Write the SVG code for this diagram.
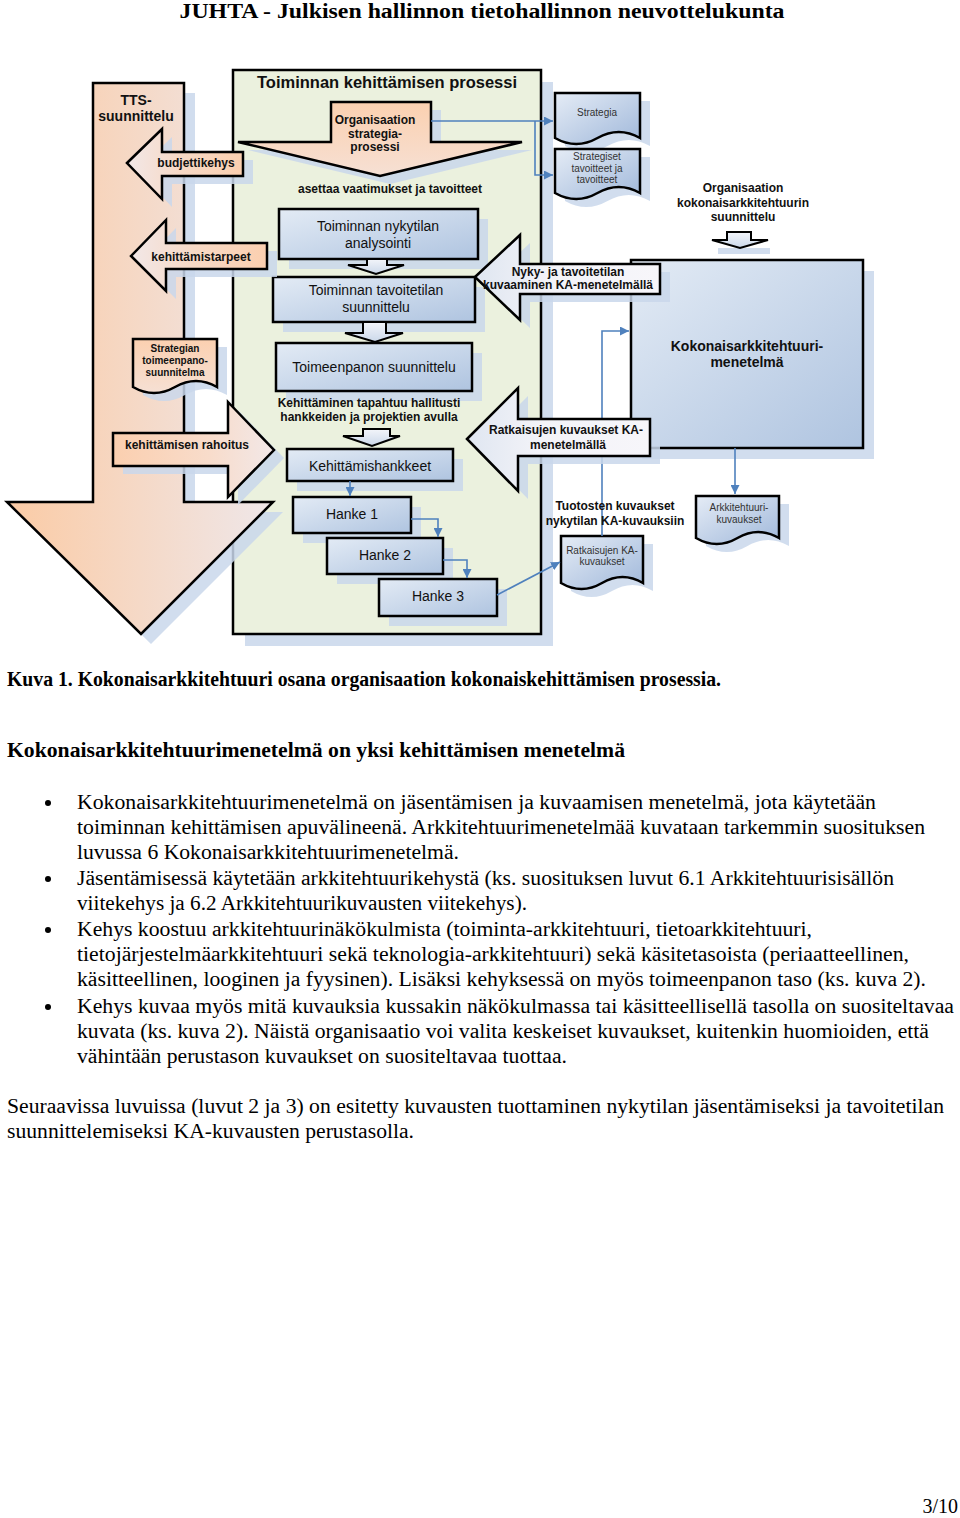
<svg xmlns="http://www.w3.org/2000/svg" width="960" height="1518" viewBox="0 0 960 1518">
<style>
.sans{font-family:"Liberation Sans",Arial,sans-serif;}
.b{font-weight:bold;}
.lbl{font-family:"Liberation Sans",Arial,sans-serif;font-weight:bold;font-size:12px;fill:#111;text-anchor:middle;}
.box{font-family:"Liberation Sans",Arial,sans-serif;font-size:14px;fill:#111;text-anchor:middle;}
.doc{font-family:"Liberation Sans",Arial,sans-serif;font-size:10px;fill:#333;text-anchor:middle;}
.ser{font-family:"Liberation Serif","Times New Roman",serif;font-size:20px;fill:#000;}
.sh{fill:#c9d7eb;opacity:0.85;}
.stk{stroke:#000;stroke-width:2.5;stroke-linejoin:miter;}
.con{fill:none;stroke:#4f81bd;stroke-width:1.6;}
</style>
<defs>
<linearGradient id="gBox" x1="0" y1="0" x2="1" y2="1">
<stop offset="0" stop-color="#e3ebf5"/><stop offset="1" stop-color="#afc4e0"/>
</linearGradient>
<linearGradient id="gDoc" x1="0" y1="0" x2="1" y2="1">
<stop offset="0" stop-color="#e5ecf6"/><stop offset="1" stop-color="#a0b8da"/>
</linearGradient>
<linearGradient id="gBig" x1="7" y1="0" x2="273" y2="0" gradientUnits="userSpaceOnUse">
<stop offset="0" stop-color="#fbcba5"/><stop offset="1" stop-color="#efe7e9"/>
</linearGradient>
<linearGradient id="gOrL" x1="0" y1="0" x2="1" y2="0">
<stop offset="0" stop-color="#f2e8e8"/><stop offset="0.45" stop-color="#f7d9c6"/><stop offset="1" stop-color="#fbcfaf"/>
</linearGradient>
<linearGradient id="gOrR" x1="0" y1="0" x2="1" y2="0">
<stop offset="0" stop-color="#fbcfaf"/><stop offset="0.6" stop-color="#f8dccb"/><stop offset="1" stop-color="#f2e8e8"/>
</linearGradient>
<linearGradient id="gOrD" x1="0" y1="0" x2="0" y2="1">
<stop offset="0" stop-color="#fbd0b0"/><stop offset="1" stop-color="#f6e0d4"/>
</linearGradient>
<linearGradient id="gWh" x1="0" y1="0" x2="1" y2="0">
<stop offset="0" stop-color="#dfe6f1"/><stop offset="0.4" stop-color="#f3f3f8"/><stop offset="1" stop-color="#f7f6fa"/>
</linearGradient>
<linearGradient id="gSmall" x1="0" y1="0" x2="0" y2="1">
<stop offset="0" stop-color="#f3f5fa"/><stop offset="1" stop-color="#cbd8ea"/>
</linearGradient>
<marker id="ar" viewBox="0 0 10 10" refX="10" refY="5" markerWidth="9" markerHeight="9" markerUnits="userSpaceOnUse" orient="auto">
<path d="M0,0 L10,5 L0,10 z" fill="#4f81bd"/>
</marker>
</defs>
<rect width="960" height="1518" fill="#fff"/>

<text x="482" y="18" class="ser b" font-size="21" text-anchor="middle" textLength="605" lengthAdjust="spacingAndGlyphs">JUHTA - Julkisen hallinnon tietohallinnon neuvottelukunta</text>

<!-- container -->
<g id="container">
<path class="sh" d="M541,82 H553 V646 H245 V634 H541 Z"/>
<rect x="233" y="70" width="308" height="564" fill="#ebf1de" class="stk"/>
<text x="387" y="88" class="sans b" font-size="16.5" text-anchor="middle" fill="#111">Toiminnan kehittämisen prosessi</text>
</g>

<!-- TTS column / big arrow -->
<g id="tts">
<polygon class="sh" points="184,93 195,93 195,512 283,512 151,644 17,512 184,512"/>
<polygon points="93,83 184,83 184,502 273,502 141,634 7,502 93,502" fill="url(#gBig)" class="stk"/>
<text x="136" y="105" class="sans b" font-size="14" text-anchor="middle" fill="#111">TTS-</text>
<text x="136" y="121" class="sans b" font-size="14" text-anchor="middle" fill="#111">suunnittelu</text>
</g>

<!-- strategy process arrow -->
<g id="strategiaprosessi">
<polygon class="sh" points="341,110 441,110 441,150 532,150 390,184 248,150 341,150"/>
<polygon points="331,102 431,102 431,142 522,142 380,176 238,142 331,142" fill="url(#gOrD)" class="stk"/>
<text x="375" y="124" class="lbl">Organisaation</text>
<text x="375" y="138" class="lbl">strategia-</text>
<text x="375" y="151" class="lbl">prosessi</text>
</g>
<text x="390" y="193" class="lbl">asettaa vaatimukset ja tavoitteet</text>

<!-- Strategia docs -->
<g id="strategia">
<path class="sh" d="M565,101 H650 V146 Q628.75,134 607.5,146 Q586.25,158 565,146 Z"/>
<path d="M555,93 H640 V138 Q618.75,126 597.5,138 Q576.25,150 555,138 Z" fill="url(#gDoc)" class="stk"/>
<text x="597" y="116" class="doc">Strategia</text>
</g>
<g id="strategiset">
<path class="sh" d="M565,157 H650 V201 Q628.75,189 607.5,201 Q586.25,213 565,201 Z"/>
<path d="M555,149 H640 V193 Q618.75,181 597.5,193 Q576.25,205 555,193 Z" fill="url(#gDoc)" class="stk"/>
<text x="597" y="160" class="doc">Strategiset</text>
<text x="597" y="172" class="doc">tavoitteet ja</text>
<text x="597" y="183" class="doc">tavoitteet</text>
</g>

<!-- boxes -->
<g id="nykytila">
<rect class="sh" x="289" y="219" width="199" height="50"/>
<rect x="279" y="209" width="199" height="50" fill="url(#gBox)" class="stk"/>
<text x="378" y="231" class="box">Toiminnan nykytilan</text>
<text x="378" y="248" class="box">analysointi</text>
</g>
<g id="tavoitetila">
<rect class="sh" x="283" y="287" width="202" height="45"/>
<rect x="273" y="277" width="202" height="45" fill="url(#gBox)" class="stk"/>
<text x="376" y="295" class="box">Toiminnan tavoitetilan</text>
<text x="376" y="312" class="box">suunnittelu</text>
</g>
<g id="toimeenpano">
<rect class="sh" x="286" y="353" width="196" height="48"/>
<rect x="276" y="343" width="196" height="48" fill="url(#gBox)" class="stk"/>
<text x="374" y="372" class="box">Toimeenpanon suunnittelu</text>
</g>
<text x="369" y="407" class="lbl">Kehittäminen tapahtuu hallitusti</text>
<text x="369" y="421" class="lbl">hankkeiden ja projektien avulla</text>
<g id="kehittamishankkeet">
<rect class="sh" x="297" y="459" width="166" height="32"/>
<rect x="287" y="449" width="166" height="32" fill="url(#gBox)" class="stk"/>
<text x="370" y="471" class="box">Kehittämishankkeet</text>
</g>
<g id="hanke1">
<rect class="sh" x="303" y="507" width="118" height="36"/>
<rect x="293" y="497" width="118" height="36" fill="url(#gBox)" class="stk"/>
<text x="352" y="519" class="box" font-size="12">Hanke 1</text>
</g>
<g id="hanke2">
<rect class="sh" x="337" y="548" width="116" height="36"/>
<rect x="327" y="538" width="116" height="36" fill="url(#gBox)" class="stk"/>
<text x="385" y="560" class="box" font-size="12">Hanke 2</text>
</g>
<g id="hanke3">
<rect class="sh" x="389" y="589" width="118" height="37"/>
<rect x="379" y="579" width="118" height="37" fill="url(#gBox)" class="stk"/>
<text x="438" y="601" class="box" font-size="12">Hanke 3</text>
</g>

<!-- small block arrows -->
<g id="pieniNuolet">
<polygon points="367,259 387,259 387,265 404,265 376,274 348,265 367,265" fill="url(#gSmall)" stroke="#000" stroke-width="2"/>
<polygon points="363,322 386,322 386,333 403,333 375,342 345,333 363,333" fill="url(#gSmall)" stroke="#000" stroke-width="2"/>
<polygon points="363,429 390,429 390,436 400,436 372,446 343,436 363,436" fill="url(#gSmall)" stroke="#000" stroke-width="2"/>
<rect class="sh" x="718" y="248" width="52" height="6" opacity="0.6"/>
<polygon points="727,232 751,232 751,240 768,240 740,248 712,240 727,240" fill="url(#gSmall)" stroke="#000" stroke-width="2"/>
</g>

<!-- right side -->
<text x="743" y="192" class="lbl">Organisaation</text>
<text x="743" y="207" class="lbl">kokonaisarkkitehtuurin</text>
<text x="743" y="221" class="lbl">suunnittelu</text>

<g id="kokonaisarkkitehtuurimenetelma">
<rect class="sh" x="642" y="271" width="232" height="188"/>
<rect x="631" y="260" width="232" height="188" fill="url(#gBox)" class="stk"/>
<text x="747" y="351" class="sans b" font-size="14" text-anchor="middle" fill="#111">Kokonaisarkkitehtuuri-</text>
<text x="747" y="367" class="sans b" font-size="14" text-anchor="middle" fill="#111">menetelmä</text>
</g>

<g id="arkkitehtuurikuvaukset">
<path class="sh" d="M706,504 H789 V546 Q768.25,534 747.5,546 Q726.75,558 706,546 Z"/>
<path d="M696,496 H779 V538 Q758.25,526 737.5,538 Q716.75,550 696,538 Z" fill="url(#gDoc)" class="stk"/>
<text x="739" y="511" class="doc">Arkkitehtuuri-</text>
<text x="739" y="523" class="doc">kuvaukset</text>
</g>

<g id="ratkaisujenKAkuvaukset">
<path class="sh" d="M571,544 H653 V591 Q632.5,579 612,591 Q591.5,603 571,591 Z"/>
<path d="M561,536 H643 V583 Q622.5,571 602,583 Q581.5,595 561,583 Z" fill="url(#gDoc)" class="stk"/>
<text x="602" y="554" class="doc">Ratkaisujen KA-</text>
<text x="602" y="565" class="doc">kuvaukset</text>
</g>

<g id="strategianToimeenpano">
<path class="sh" d="M143,347 H227 V395 Q206,383 185,395 Q164,407 143,395 Z"/>
<path d="M133,339 H217 V387 Q196,375 175,387 Q154,399 133,387 Z" fill="url(#gOrD)" class="stk"/>
<text x="175" y="352" class="sans b" font-size="10" text-anchor="middle" fill="#111">Strategian</text>
<text x="175" y="364" class="sans b" font-size="10" text-anchor="middle" fill="#111">toimeenpano-</text>
<text x="175" y="376" class="sans b" font-size="10" text-anchor="middle" fill="#111">suunnitelma</text>
</g>

<!-- connectors -->
<g id="connectors">
<path class="con" d="M431,121 H553" marker-end="url(#ar)"/>
<path class="con" d="M535,121 V175 H553" marker-end="url(#ar)"/>
<path class="con" d="M350,481 V496" marker-end="url(#ar)"/>
<path class="con" d="M411,519 H438 V537" marker-end="url(#ar)"/>
<path class="con" d="M443,560 H467 V578" marker-end="url(#ar)"/>
<path class="con" d="M497,595 L560,562" marker-end="url(#ar)"/>
<path class="con" d="M602,536 V331 H629" marker-end="url(#ar)"/>
<path class="con" d="M735,448 V494" marker-end="url(#ar)"/>
</g>

<text x="615" y="510" class="lbl">Tuotosten kuvaukset</text>
<text x="615" y="525" class="lbl">nykytilan KA-kuvauksiin</text>

<!-- left arrows -->
<g id="budjettikehys">
<polygon class="sh" points="137,171 172,137 172,160 253,160 253,184 172,184 172,207"/>
<polygon points="127,163 162,129 162,152 243,152 243,176 162,176 162,199" fill="url(#gOrL)" class="stk"/>
<text x="196" y="167" class="lbl">budjettikehys</text>
</g>
<g id="kehittamistarpeet">
<polygon class="sh" points="141,264 176,228 176,251 277,251 277,277 176,277 176,299"/>
<polygon points="131,256 166,220 166,243 267,243 267,269 166,269 166,291" fill="url(#gOrL)" class="stk"/>
<text x="201" y="261" class="lbl">kehittämistarpeet</text>
</g>
<g id="rahoitus">
<polygon class="sh" points="123,441 238,441 238,410 284,458 238,505 238,474 123,474"/>
<polygon points="113,433 228,433 228,402 274,450 228,497 228,466 113,466" fill="url(#gOrR)" class="stk"/>
<text x="187" y="449" class="lbl">kehittämisen rahoitus</text>
</g>
<g id="nykyJaTavoitetila">
<polygon class="sh" points="485,285 530,243 530,272 670,272 670,302 530,302 530,328"/>
<polygon points="475,277 520,235 520,264 660,264 660,294 520,294 520,320" fill="url(#gWh)" class="stk"/>
<text x="568" y="276" class="lbl">Nyky- ja tavoitetilan</text>
<text x="568" y="289" class="lbl">kuvaaminen KA-menetelmällä</text>
</g>
<g id="ratkaisujenKuvaukset">
<polygon class="sh" points="477,447 528,396 528,427 660,427 660,464 528,464 528,499"/>
<polygon points="467,439 518,388 518,419 650,419 650,456 518,456 518,491" fill="url(#gWh)" class="stk"/>
<text x="566" y="434" class="lbl">Ratkaisujen kuvaukset KA-</text>
<text x="568" y="449" class="lbl">menetelmällä</text>
</g>

<!-- body text -->
<g id="bodytext">
<text x="7" y="686" class="ser b" textLength="714" lengthAdjust="spacingAndGlyphs">Kuva 1. Kokonaisarkkitehtuuri osana organisaation kokonaiskehittämisen prosessia.</text>
<text x="7" y="757" class="ser b" textLength="618" lengthAdjust="spacingAndGlyphs">Kokonaisarkkitehtuurimenetelmä on yksi kehittämisen menetelmä</text>
<circle cx="48" cy="803" r="3"/>
<text x="77" y="809" class="ser" textLength="799" lengthAdjust="spacingAndGlyphs">Kokonaisarkkitehtuurimenetelmä on jäsentämisen ja kuvaamisen menetelmä, jota käytetään</text>
<text x="77" y="834" class="ser" textLength="848" lengthAdjust="spacingAndGlyphs">toiminnan kehittämisen apuvälineenä. Arkkitehtuurimenetelmää kuvataan tarkemmin suosituksen</text>
<text x="77" y="859" class="ser" textLength="382" lengthAdjust="spacingAndGlyphs">luvussa 6 Kokonaisarkkitehtuurimenetelmä.</text>
<circle cx="48" cy="879" r="3"/>
<text x="77" y="885" class="ser" textLength="817" lengthAdjust="spacingAndGlyphs">Jäsentämisessä käytetään arkkitehtuurikehystä (ks. suosituksen luvut 6.1 Arkkitehtuurisisällön</text>
<text x="77" y="910" class="ser" textLength="450" lengthAdjust="spacingAndGlyphs">viitekehys ja 6.2 Arkkitehtuurikuvausten viitekehys).</text>
<circle cx="48" cy="930" r="3"/>
<text x="77" y="936" class="ser" textLength="735" lengthAdjust="spacingAndGlyphs">Kehys koostuu arkkitehtuurinäkökulmista (toiminta-arkkitehtuuri, tietoarkkitehtuuri,</text>
<text x="77" y="961" class="ser" textLength="832" lengthAdjust="spacingAndGlyphs">tietojärjestelmäarkkitehtuuri sekä teknologia-arkkitehtuuri) sekä käsitetasoista (periaatteellinen,</text>
<text x="77" y="986" class="ser" textLength="849" lengthAdjust="spacingAndGlyphs">käsitteellinen, looginen ja fyysinen). Lisäksi kehyksessä on myös toimeenpanon taso (ks. kuva 2).</text>
<circle cx="48" cy="1007" r="3"/>
<text x="77" y="1013" class="ser" textLength="877" lengthAdjust="spacingAndGlyphs">Kehys kuvaa myös mitä kuvauksia kussakin näkökulmassa tai käsitteellisellä tasolla on suositeltavaa</text>
<text x="77" y="1038" class="ser" textLength="852" lengthAdjust="spacingAndGlyphs">kuvata (ks. kuva 2). Näistä organisaatio voi valita keskeiset kuvaukset, kuitenkin huomioiden, että</text>
<text x="77" y="1063" class="ser" textLength="490" lengthAdjust="spacingAndGlyphs">vähintään perustason kuvaukset on suositeltavaa tuottaa.</text>
<text x="7" y="1113" class="ser" textLength="937" lengthAdjust="spacingAndGlyphs">Seuraavissa luvuissa (luvut 2 ja 3) on esitetty kuvausten tuottaminen nykytilan jäsentämiseksi ja tavoitetilan</text>
<text x="7" y="1138" class="ser" textLength="407" lengthAdjust="spacingAndGlyphs">suunnittelemiseksi KA-kuvausten perustasolla.</text>
<text x="958" y="1513" class="ser" text-anchor="end">3/10</text>
</g>
</svg>
